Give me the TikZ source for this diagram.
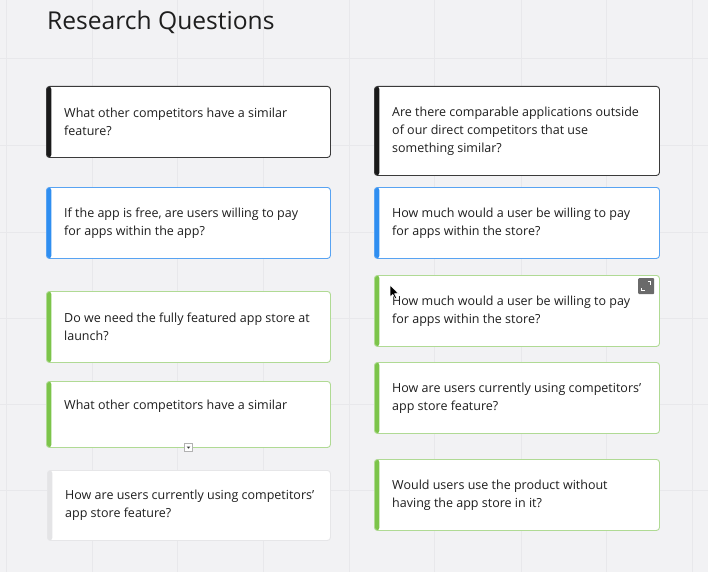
\documentclass[tikz,border=0pt]{standalone}
\usepackage{fontspec}
\setmainfont{Open Sans}
\definecolor{bg}{HTML}{F2F2F4}
\definecolor{gridc}{HTML}{E8E8EB}
\definecolor{txt}{HTML}{1E1E1E}
\definecolor{barblack}{HTML}{1A1A1A}
\definecolor{bordblack}{HTML}{3A3A3A}
\definecolor{barblue}{HTML}{2F8EF0}
\definecolor{bordblue}{HTML}{58A3F2}
\definecolor{bargreen}{HTML}{7CC44A}
\definecolor{bordgreen}{HTML}{B0DA94}
\definecolor{bargray}{HTML}{E4E4E6}
\definecolor{bordgray}{HTML}{E6E6E8}
\definecolor{icongray}{HTML}{6A6A6A}
\tikzset{
  cardbox/.style={fill=white, line width=0.9pt, rounded corners=3pt, inner sep=0pt, anchor=north west},
  qtext/.style={anchor=west, align=left, inner sep=0pt, text=txt, font=\fontsize{12.5}{18}\selectfont},
  gridline/.style={draw=gridc, line width=0.8pt}
}
\newcommand{\mkcard}[9][0]{% [text yshift] name, x, y, w, h, barcolor, bordercolor, text
  \node[cardbox, draw=#8, minimum width=#5pt, minimum height=#6pt,
    path picture={\fill[#7] (path picture bounding box.north west) rectangle ([xshift=5pt]path picture bounding box.south west);}]
    (#2) at (#3,#4) {};
  \node[qtext] (#2t) at ([xshift=18pt,yshift=#1pt]#2.west) {#9};
}
\begin{document}
\begin{tikzpicture}[x=1pt,y=-1pt]
\fill[bg] (0,0) rectangle (708,572);
\useasboundingbox (0,0) rectangle (708,572);
\foreach \gx in {6,92,177,263,349,434,521,606,692} {\draw[gridline] (\gx,0) -- (\gx,572);}
\foreach \gy in {58,145,232,318,404,490} {\draw[gridline] (0,\gy) -- (708,\gy);}

\node[anchor=west, inner sep=0pt, text=txt, font=\fontsize{24.6}{28}\selectfont] (title) at (47,22.5) {Research Questions};

\mkcard{l1}{46}{86}{284}{71}{barblack}{bordblack}{What other competitors have a similar\\feature?}
\mkcard{l2}{46}{187}{284}{71}{barblue}{bordblue}{If the app is free, are users willing to pay\\for apps within the app?}
\mkcard{l3}{46}{291}{284}{71}{bargreen}{bordgreen}{Do we need the fully featured app store at\\launch?}
\mkcard[8]{l4}{46}{381}{284}{66}{bargreen}{bordgreen}{What other competitors have a similar}
\mkcard{l5}{47}{470}{283}{70}{bargray}{bordgray}{How are users currently using competitors’\\app store feature?}

\mkcard{r1}{374}{86}{285}{89}{barblack}{bordblack}{Are there comparable applications outside\\of our direct competitors that use\\something similar?}
\mkcard{r2}{374}{187}{285}{71}{barblue}{bordblue}{How much would a user be willing to pay\\for apps within the store?}
\mkcard{r3}{374}{275}{285}{71}{bargreen}{bordgreen}{How much would a user be willing to pay\\for apps within the store?}
\mkcard{r4}{374}{362}{285}{71}{bargreen}{bordgreen}{How are users currently using competitors’\\app store feature?}
\mkcard{r5}{374}{459}{285}{71}{bargreen}{bordgreen}{Would users use the product without\\having the app store in it?}

% expand icon on r3
\node[fill=icongray, rounded corners=1pt, minimum size=16pt, inner sep=0pt, anchor=north west] (expand) at (638,278) {};
\draw[white, line width=1.2pt] ([xshift=1.5pt,yshift=4.5pt]expand.center) -- ([xshift=4.5pt,yshift=4.5pt]expand.center) -- ([xshift=4.5pt,yshift=1.5pt]expand.center);
\draw[white, line width=1.2pt] ([xshift=-1.5pt,yshift=-4.5pt]expand.center) -- ([xshift=-4.5pt,yshift=-4.5pt]expand.center) -- ([xshift=-4.5pt,yshift=-1.5pt]expand.center);

% small dropdown handle on l4
\node[fill=white, draw=black!30, line width=0.6pt, minimum size=8pt, inner sep=0pt] (handle) at (188.5,447.5) {};
\fill[black!80] ([xshift=-1.8pt,yshift=1pt]handle.center) -- ([xshift=1.8pt,yshift=1pt]handle.center) -- ([yshift=-1.2pt]handle.center) -- cycle;

% mouse cursor
\coordinate (cursor) at (390,285);
\filldraw[fill=black, draw=white, line width=0.5pt, line join=round] (cursor) -- ++(0,12) -- ++(2.8,-2.6) -- ++(2.2,4.4) -- ++(1.6,-0.8) -- ++(-2.1,-4.3) -- ++(3.8,-0.2) -- cycle;
\end{tikzpicture}
\end{document}
